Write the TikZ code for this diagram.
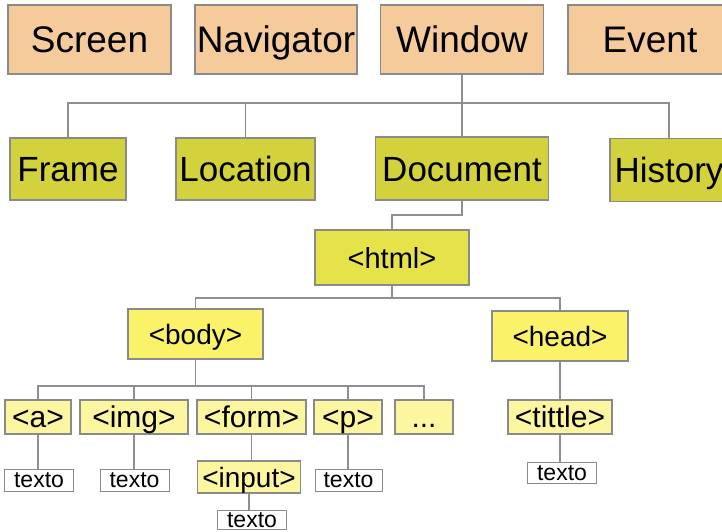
\documentclass[tikz,border=0pt]{standalone}
\usepackage{fontspec}
\setmainfont{Liberation Sans}
\begin{document}
\begin{tikzpicture}[x=1pt,y=-1pt,
  bx/.style={draw=boxline, line width=1.3pt, inner sep=0pt, anchor=center, text depth=0pt, align=center},
  top/.style={bx, fill=peach, font=\fontsize{37}{40}\selectfont, text height=26.5pt},
  sec/.style={bx, fill=olive, font=\fontsize{35}{38}\selectfont, text height=25pt},
  htm/.style={bx, fill=htmlc, font=\fontsize{29}{32}\selectfont, text height=21pt},
  mid/.style={bx, fill=midc, font=\fontsize{28}{31}\selectfont, text height=20pt},
  leaf/.style={bx, fill=leafc, font=\fontsize{30}{33}\selectfont, text height=21.5pt},
  txt/.style={bx, fill=white, font=\fontsize{23}{26}\selectfont, text height=15pt, line width=1pt},
  con/.style={draw=conline, line width=1.2pt}
]
\definecolor{peach}{HTML}{F6CB9C}
\definecolor{olive}{HTML}{D3D23C}
\definecolor{htmlc}{HTML}{E6E24A}
\definecolor{midc}{HTML}{FAF36A}
\definecolor{leafc}{HTML}{FDF6A0}
\definecolor{boxline}{HTML}{8A8A8A}
\definecolor{conline}{HTML}{8F8F8F}
\useasboundingbox (0,0) rectangle (722,531);
\fill[white] (0,0) rectangle (722,531);

% top row
\node[top, minimum width=163pt, minimum height=69pt] (screen) at (89.5,39.5) {Screen};
\node[top, minimum width=162pt, minimum height=69pt] (nav) at (276,39.5) {Navigator};
\node[top, minimum width=163pt, minimum height=69pt] (win) at (462,39.5) {Window};
\node[top, minimum width=164pt, minimum height=69pt] (event) at (650,39.5) {Event};

% second row
\node[sec, minimum width=116pt, minimum height=62pt] (frame) at (68,169) {Frame};
\node[sec, minimum width=139pt, minimum height=62pt] (loc) at (245.5,169) {Location};
\node[sec, minimum width=173pt, minimum height=63pt] (doc) at (462,168.5) {Document};
\node[sec, minimum width=118pt, minimum height=63pt] (hist) at (669,170) {History};

% html level
\node[htm, minimum width=154pt, minimum height=55pt] (html) at (392,257.5) {<html>};
\node[mid, minimum width=135pt, minimum height=50pt] (body) at (195.5,334) {<body>};
\node[mid, minimum width=136pt, minimum height=50pt] (head) at (560,336) {<head>};

% leaves
\node[leaf, minimum width=66pt, minimum height=34pt] (a) at (38,417) {<a>};
\node[leaf, minimum width=108pt, minimum height=34pt] (img) at (134,417) {<img>};
\node[leaf, minimum width=109pt, minimum height=34pt] (form) at (251.5,417) {<form>};
\node[leaf, minimum width=68pt, minimum height=34pt] (p) at (348,417) {<p>};
\node[leaf, minimum width=58pt, minimum height=34pt] (dots) at (424,417) {...};
\node[leaf, minimum width=104pt, minimum height=34pt] (tit) at (560,417) {<tittle>};

\node[leaf, minimum width=103pt, minimum height=32pt, font=\fontsize{28}{31}\selectfont, text height=20pt] (input) at (249,477) {<input>};

% texto
\node[txt, minimum width=69pt, minimum height=22pt] (ta) at (39,480) {texto};
\node[txt, minimum width=69pt, minimum height=22pt] (timg) at (134.5,480) {texto};
\node[txt, minimum width=67pt, minimum height=22pt] (tp) at (348.5,480) {texto};
\node[txt, minimum width=69pt, minimum height=21pt] (ttit) at (562,472.5) {texto};
\node[txt, minimum width=69pt, minimum height=19pt] (tin) at (252,520) {texto};

% buses
\coordinate (bus1) at (0,103);
\coordinate (bus2) at (0,215);
\coordinate (bus3) at (0,298);
\coordinate (bus4) at (0,386);

\draw[con] (win.south) -- (win.south |- bus1) -| (frame.north);
\draw[con] (win.south |- bus1) -| (loc.north);
\draw[con] (win.south) -- (doc.north);
\draw[con] (win.south |- bus1) -| (hist.north);

\draw[con] (doc.south) -- (doc.south |- bus2) -| (html.north);

\draw[con] (html.south) -- (html.south |- bus3) -| (body.north);
\draw[con] (html.south |- bus3) -| (head.north);

\draw[con] (body.south) -- (body.south |- bus4) -| (a.north);
\draw[con] (body.south |- bus4) -| (img.north);
\draw[con] (body.south |- bus4) -| (form.north);
\draw[con] (body.south |- bus4) -| (p.north);
\draw[con] (body.south |- bus4) -| (dots.north);

\draw[con] (head.south) -- (tit.north);

\draw[con] (a.south) -- (a.south |- ta.north);
\draw[con] (img.south) -- (img.south |- timg.north);
\draw[con] (form.south) -- (form.south |- input.north);
\draw[con] (p.south) -- (p.south |- tp.north);
\draw[con] (tit.south) -- (tit.south |- ttit.north);
\draw[con] (input.south) -- (input.south |- tin.north);
\end{tikzpicture}
\end{document}
